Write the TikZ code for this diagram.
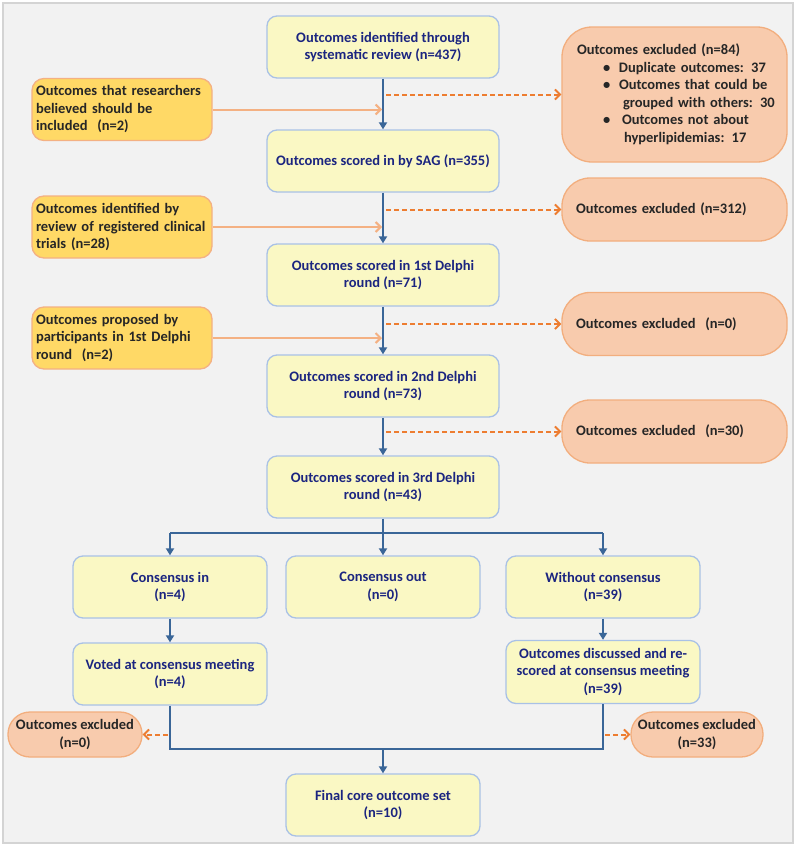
\documentclass[tikz,border=0pt]{standalone}
\usepackage{fontspec}
\setmainfont{Carlito}
\usetikzlibrary{arrows.meta,calc}
\definecolor{bgc}{HTML}{F2F2F2}
\definecolor{bgline}{HTML}{D4D4D4}
\definecolor{yfill}{HTML}{FAF8C4}
\definecolor{ydraw}{HTML}{A9C1E6}
\definecolor{navy}{HTML}{1B2580}
\definecolor{gfill}{HTML}{FFD966}
\definecolor{gdraw}{HTML}{F4B183}
\definecolor{rfill}{HTML}{F8CBAD}
\definecolor{rdraw}{HTML}{F2AE7E}
\definecolor{bluearrow}{HTML}{3A6698}
\definecolor{darrow}{HTML}{ED7D31}
\definecolor{sarrow}{HTML}{F4B183}
\tikzset{
  x=1pt, y=-1pt,
  every node/.style={font=\fontsize{14.5}{17.5}\selectfont\bfseries, inner sep=2pt},
  ybox/.style={draw=ydraw, fill=yfill, line width=1.3pt, rounded corners=10pt, text=navy, align=center, minimum width=#1, minimum height=62pt},
  ybox/.default=232pt,
  gbox/.style={draw=gdraw, fill=gfill, line width=1.3pt, rounded corners=12pt, text=black!85, align=left, minimum width=180pt, minimum height=62pt, text width=172pt},
  rbox/.style={draw=rdraw, fill=rfill, line width=1.3pt, rounded corners=28pt, text=black!85, align=left, minimum width=225pt, minimum height=63pt, text width=197pt},
  xbox/.style={draw=rdraw, fill=rfill, line width=1.3pt, rounded corners=22pt, text=black!85, align=center, minimum height=45pt},
  flow/.style={draw=bluearrow, line width=2pt, -{Triangle[length=7pt,width=8pt]}},
  flowline/.style={draw=bluearrow, line width=2pt},
  excl/.style={draw=darrow, line width=2pt, dash pattern=on 5pt off 3pt, -{Straight Barb[length=5pt,width=10pt,line width=2pt]}},
  addin/.style={draw=sarrow, line width=2pt, -{Straight Barb[length=5pt,width=10pt,line width=2pt]}},
}
\begin{document}
\begin{tikzpicture}
\path[fill=white] (0,0) rectangle (796,846);
\path[use as bounding box] (0,0) rectangle (796,846);
\draw[bgline, fill=bgc, line width=1.5pt] (3,3) rectangle (793,843);

% main column
\node[ybox] (b1) at (383,47) {Outcomes identified through\\systematic review (n=437)};
\node[ybox] (b2) at (383,161) {Outcomes scored in by SAG (n=355)};
\node[ybox] (b3) at (383,275) {Outcomes scored in 1st Delphi\\round (n=71)};
\node[ybox] (b4) at (383,386) {Outcomes scored in 2nd Delphi\\round (n=73)};
\node[ybox] (b5) at (383,487) {Outcomes scored in 3rd Delphi\\round (n=43)};

% left additions
\node[gbox] (l1) at (122,109.5) {Outcomes that researchers\\believed should be\\included~ (n=2)};
\node[gbox] (l2) at (122,227) {Outcomes identified by\\review of registered clinical\\trials (n=28)};
\node[gbox] (l3) at (122,338) {Outcomes proposed by\\participants in 1st Delphi\\round~ (n=2)};

% right exclusions
\node[rbox, minimum height=135pt, rounded corners=30pt, text width=215pt] (r1) at (674.5,94.5) {\hspace*{10pt}Outcomes excluded (n=84)\\
\hspace*{36pt}\makebox[16pt][l]{\textbullet}Duplicate outcomes: 37\\
\hspace*{36pt}\makebox[16pt][l]{\textbullet}Outcomes that could be\\
\hspace*{56pt}grouped with others: 30\\
\hspace*{36pt}\makebox[19pt][l]{\textbullet}Outcomes not about\\
\hspace*{57pt}hyperlipidemias: 17};
\node[rbox] (r2) at (674.5,209.5) {Outcomes excluded (n=312)};
\node[rbox] (r3) at (674.5,324) {Outcomes excluded~ (n=0)};
\node[rbox] (r4) at (674.5,431.5) {Outcomes excluded~ (n=30)};

% second stage
\node[ybox=194pt] (cin) at (170,587) {Consensus in\\(n=4)};
\node[ybox=194pt] (cout) at (383,587) {Consensus out\\(n=0)};
\node[ybox=194pt] (wout) at (603,587) {Without consensus\\(n=39)};
\node[ybox=194pt] (vote) at (170,674) {Voted at consensus meeting\\(n=4)};
\node[ybox=194pt, minimum height=63pt] (disc) at (603,672) {Outcomes discussed and re-\\scored at consensus meeting\\(n=39)};
\node[ybox=194pt] (fin) at (383,805) {Final core outcome set\\(n=10)};
\node[xbox, minimum width=134pt] (xl) at (75,734.5) {Outcomes excluded\\(n=0)};
\node[xbox, minimum width=132pt] (xr) at (697,734.5) {Outcomes excluded\\(n=33)};

\coordinate (br) at (383,533);
\coordinate (jn) at (383,749);

% main flow
\draw[flow] (b1) -- (b2);
\draw[flow] (b2) -- (b3);
\draw[flow] (b3) -- (b4);
\draw[flow] (b4) -- (b5);

% additions
\draw[addin] (l1.east) -- ($(l1.east -| b1.south)+(-1,0)$);
\draw[addin] (l2.east) -- ($(l2.east -| b1.south)+(-1,0)$);
\draw[addin] (l3.east) -- ($(l3.east -| b1.south)+(-1,0)$);

% exclusions
\draw[excl] ($(r1.west -| b1.south)+(3,0)$) -- (r1.west);
\draw[excl] ($(r2.west -| b1.south)+(3,0)$) -- (r2.west);
\draw[excl] ($(r3.west -| b1.south)+(3,0)$) -- (r3.west);
\draw[excl] ($(r4.west -| b1.south)+(3,0)$) -- (r4.west);

% branch
\draw[flowline] (b5.south) -- (br);
\draw[flowline] (br -| cin.north) -- (br -| wout.north);
\draw[flow] (br) -- (cout.north);
\draw[flow] (br -| cin.north) -- (cin.north);
\draw[flow] (br -| wout.north) -- (wout.north);
\draw[flow] (cin) -- (vote);
\draw[flow] (wout) -- (disc);

% join
\draw[flowline] (vote.south) -- (vote.south |- jn) -- (disc.south |- jn) -- (disc.south);
\draw[flow] (jn) -- (fin.north);

\draw[excl] ($(vote.south |- xl.east)+(-2,0)$) -- (xl.east);
\draw[excl] ($(disc.south |- xr.west)+(2,0)$) -- (xr.west);
\end{tikzpicture}
\end{document}
